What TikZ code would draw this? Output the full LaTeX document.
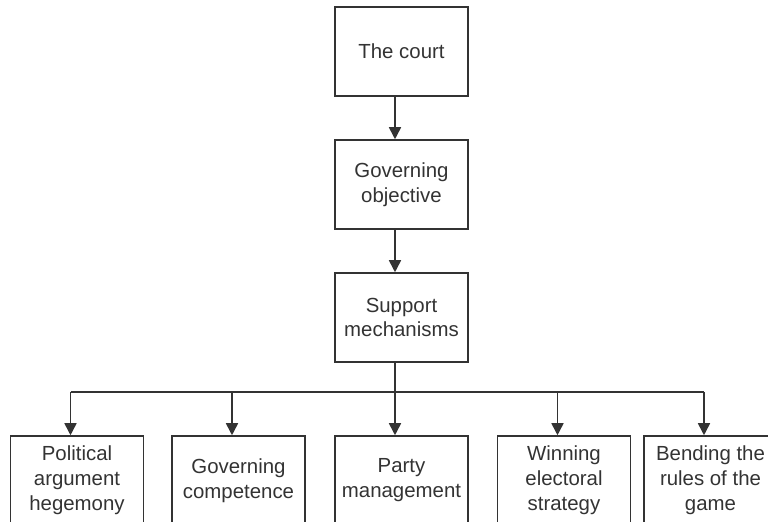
\documentclass[tikz,border=0pt]{standalone}
\usepackage{fontspec}
\setmainfont{Liberation Sans}
\usetikzlibrary{arrows.meta,positioning}
\definecolor{inkG}{HTML}{333333}

\begin{document}
\begin{tikzpicture}[x=0.5pt,y=-0.5pt,
  box/.style={draw=inkG,line width=0.75pt,minimum width=66.5pt,minimum height=44.5pt,
    inner sep=0pt,align=center,text=inkG,font=\fontsize{10.2}{12.4}\selectfont},
  link/.style={draw=inkG,line width=0.75pt},
  arr/.style={link,-{Triangle[width=6pt,length=6pt]}}]
  \useasboundingbox (0,0) rectangle (768,522);
  \clip (0,0) rectangle (768,522);
  % main chain
  \node[box] (court) at (401.5,51.5) {The court};
  \node[box] (objective) at (401.5,184.5) {Governing\\objective};
  \node[box] (mech) at (401.5,317.5) {Support\\mechanisms};
  % bottom row
  \node[box] (hegemony) at (77,480.5) {Political\\argument\\hegemony};
  \node[box] (competence) at (238.5,480.5) {Governing\\competence};
  \node[box] (party) at (401.5,480.5) {Party\\management};
  \node[box] (electoral) at (564,480.5) {Winning\\electoral\\strategy};
  \node[box] (rules) at (710.5,480.5) {Bending the\\rules of the\\game};
  \coordinate (bar) at (395,392);
  \foreach \b in {hegemony,competence,party,electoral,rules}
    \coordinate (t-\b) at ([xshift=-3.25pt]\b.north);
  \draw[arr] ([xshift=-3.25pt]court.south) -- ([xshift=-3.25pt]objective.north);
  \draw[arr] ([xshift=-3.25pt]objective.south) -- ([xshift=-3.25pt]mech.north);
  \draw[link] ([xshift=-3.25pt]mech.south) -- (t-party |- bar);
  \draw[link] (t-hegemony |- bar) -- (t-rules |- bar);
  \foreach \b in {hegemony,competence,party,electoral,rules}
    \draw[arr] (t-\b |- bar) -- (t-\b);
\end{tikzpicture}
\end{document}
